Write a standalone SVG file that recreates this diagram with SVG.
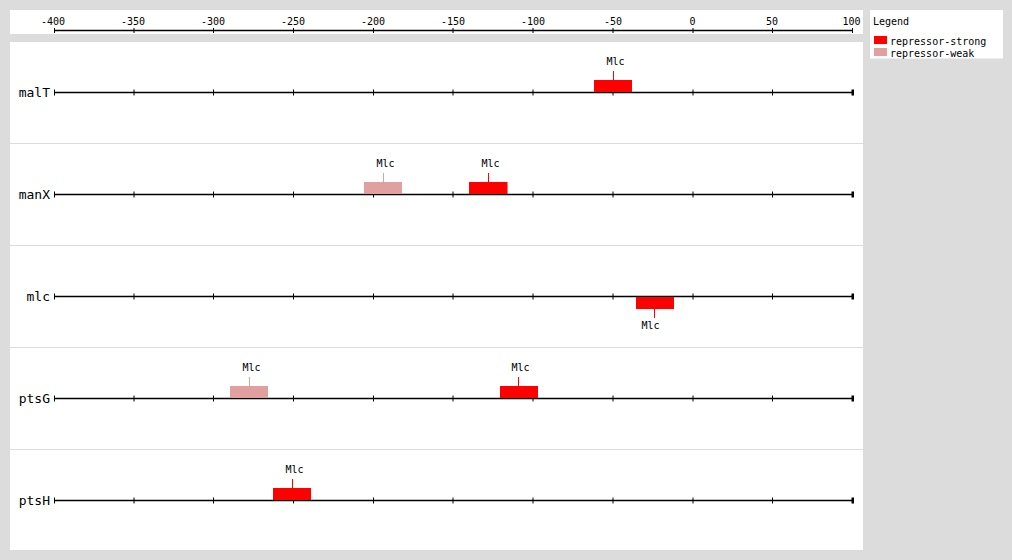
<svg xmlns="http://www.w3.org/2000/svg" width="1012" height="560" viewBox="0 0 1012 560">
<style>
.t{font-family:"DejaVu Sans Mono","Liberation Mono",monospace;font-size:10px;fill:#000}
.rl{font-family:"DejaVu Sans Mono","Liberation Mono",monospace;font-size:13px;fill:#000;text-anchor:end}
.ax{stroke:#000;stroke-width:1.5;fill:none}
.tk{stroke:#000;stroke-width:1;fill:none}
.sep{stroke:#dcdcdc;stroke-width:1}
.strong{fill:#ff0000}
.weak{fill:#e0a0a0}
.sS{stroke:#ff0000;stroke-width:1}
.sW{stroke:#e0a0a0;stroke-width:1}
</style>
<defs>
<g id="rowticks">
<line class="ax" x1="54" y1="0" x2="853" y2="0"/>
<path class="tk" d="M54.5,-3V3M134,-3V3M213.5,-3V3M293.5,-3V3M373.5,-3V3M453,-3V3M533,-3V3M613,-3V3M693,-3V3M772.5,-3V3"/>
<rect x="851.5" y="-3" width="2.5" height="6" fill="#000"/>
</g>
</defs>
<rect width="1012" height="560" fill="#dcdcdc"/>
<g id="axis">
<rect x="10" y="10" width="853" height="24" fill="#fff"/>
<line class="ax" x1="54" y1="30.5" x2="853" y2="30.5"/>
<path class="tk" d="M54.5,28V33M134,28V33M213.5,28V33M293.5,28V33M373.5,28V33M453,28V33M533,28V33M613,28V33M693,28V33M772.5,28V33M852.5,28V33"/>
<g class="t" text-anchor="middle">
<text x="53" y="25">-400</text>
<text x="133" y="25">-350</text>
<text x="213" y="25">-300</text>
<text x="293" y="25">-250</text>
<text x="373" y="25">-200</text>
<text x="453" y="25">-150</text>
<text x="533" y="25">-100</text>
<text x="613" y="25">-50</text>
<text x="692.5" y="25">0</text>
<text x="772" y="25">50</text>
<text x="851.5" y="25">100</text>
</g>
</g>
<g id="legend">
<rect x="870" y="10" width="133" height="48.5" fill="#fff"/>
<text class="t" x="873" y="25">Legend</text>
<rect class="strong" x="874" y="36" width="13" height="8"/>
<text class="t" x="890" y="45">repressor-strong</text>
<rect class="weak" x="874" y="48" width="13" height="8"/>
<text class="t" x="890" y="57">repressor-weak</text>
</g>
<g id="panel">
<rect x="10" y="42" width="853" height="508" fill="#fff"/>
<line class="sep" x1="10" y1="143.5" x2="863" y2="143.5"/>
<line class="sep" x1="10" y1="245.5" x2="863" y2="245.5"/>
<line class="sep" x1="10" y1="347.5" x2="863" y2="347.5"/>
<line class="sep" x1="10" y1="449.5" x2="863" y2="449.5"/>
</g>
<g id="row-malT">
<text class="rl" x="50" y="97">malT</text>
<use href="#rowticks" y="92.5"/>
<g id="malT-site1">
<line class="sS" x1="613.5" y1="71" x2="613.5" y2="80"/>
<rect class="strong" x="594" y="80" width="38" height="12"/>
<text class="t" x="606.5" y="65">Mlc</text>
</g>
</g>
<g id="row-manX">
<text class="rl" x="50" y="199">manX</text>
<use href="#rowticks" y="194.5"/>
<g id="manX-site1">
<line class="sW" x1="383.5" y1="173" x2="383.5" y2="182"/>
<rect class="weak" x="364" y="182" width="38" height="12"/>
<text class="t" x="376.5" y="167">Mlc</text>
</g>
<g id="manX-site2">
<line class="sS" x1="488.5" y1="173" x2="488.5" y2="182"/>
<rect class="strong" x="469" y="182" width="38.5" height="12"/>
<text class="t" x="481.5" y="167">Mlc</text>
</g>
</g>
<g id="row-mlc">
<text class="rl" x="50" y="301">mlc</text>
<use href="#rowticks" y="296.5"/>
<g id="mlc-site1">
<rect class="strong" x="636" y="297" width="38" height="12"/>
<line class="sS" x1="654.5" y1="309" x2="654.5" y2="318"/>
<text class="t" x="641.5" y="328.5">Mlc</text>
</g>
</g>
<g id="row-ptsG">
<text class="rl" x="50" y="403">ptsG</text>
<use href="#rowticks" y="398.5"/>
<g id="ptsG-site1">
<line class="sW" x1="249.5" y1="377" x2="249.5" y2="386"/>
<rect class="weak" x="230" y="386" width="38" height="12"/>
<text class="t" x="242.5" y="371">Mlc</text>
</g>
<g id="ptsG-site2">
<line class="sS" x1="518.5" y1="377" x2="518.5" y2="386"/>
<rect class="strong" x="500" y="386" width="38" height="12"/>
<text class="t" x="511.5" y="371">Mlc</text>
</g>
</g>
<g id="row-ptsH">
<text class="rl" x="50" y="505">ptsH</text>
<use href="#rowticks" y="500.5"/>
<g id="ptsH-site1">
<line class="sS" x1="292.5" y1="479" x2="292.5" y2="488"/>
<rect class="strong" x="273" y="488" width="38" height="12"/>
<text class="t" x="285.5" y="473">Mlc</text>
</g>
</g>
</svg>
